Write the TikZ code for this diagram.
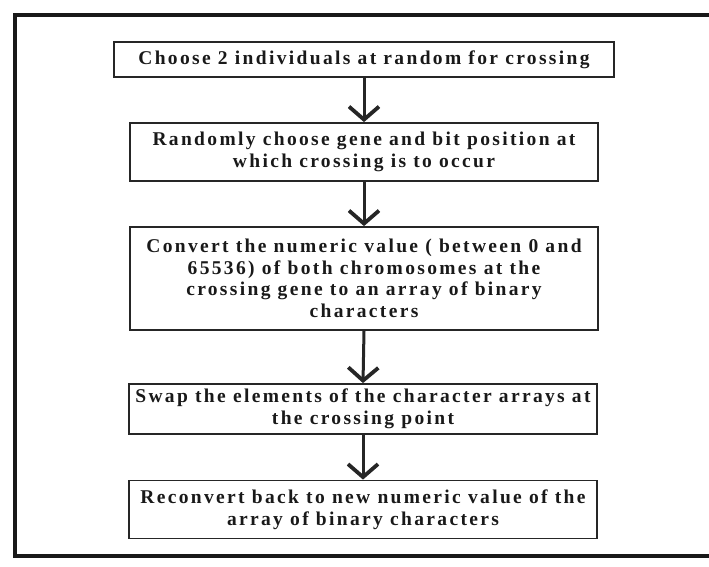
\documentclass[tikz,border=0pt]{standalone}
\usepackage{fontspec}
\setmainfont{Liberation Serif}
\newfontfamily\boxfont[LetterSpace=12]{Liberation Serif}
\usetikzlibrary{arrows.meta}
\begin{document}
\begin{tikzpicture}[x=1pt,y=-1pt,
  stepbox/.style={draw=black!85, line width=1.8pt, inner sep=0pt, align=center,
    font=\boxfont\bfseries\fontsize{19.5}{21.5}\selectfont, text=black!90, minimum width=468pt},
  flow/.style={draw=black!85, line width=3pt,
    -{Straight Barb[length=13pt,width=30pt,line width=3.8pt]}},
  frame/.style={draw=black!90, line width=4pt, line join=miter}]
\useasboundingbox (0,0) rectangle (709,566);

% outer frame (open on the right)
\draw[frame] (709,15) -- (15,15) -- (15,556) -- (709,556);

% process steps
\node[stepbox, minimum width=500pt, minimum height=35pt] (b1) at (364,59.5)
  {Choose 2 individuals at random for crossing};
\node[stepbox, minimum height=58pt] (b2) at (364,152)
  {Randomly choose gene and bit position at\\which crossing is to occur};
\node[stepbox, minimum height=103pt] (b3) at (364,278.5)
  {Convert the numeric value ( between 0 and\\65536) of both chromosomes at the\\crossing gene to an array of binary\\characters};
\node[stepbox, minimum height=50pt] (b4) at (363,409)
  {Swap the elements of the character arrays at\\the crossing point};
\node[stepbox, minimum height=58pt] (b5) at (363,509.5)
  {Reconvert back to new numeric value of the\\array of binary characters};

% connectors
\draw[flow] (b1.south) -- (b2.north);
\draw[flow] (b2.south) -- (b3.north);
\draw[flow] (b3.south) -- (b4.north);
\draw[flow] (b4.south) -- (b5.north);
\end{tikzpicture}
\end{document}
